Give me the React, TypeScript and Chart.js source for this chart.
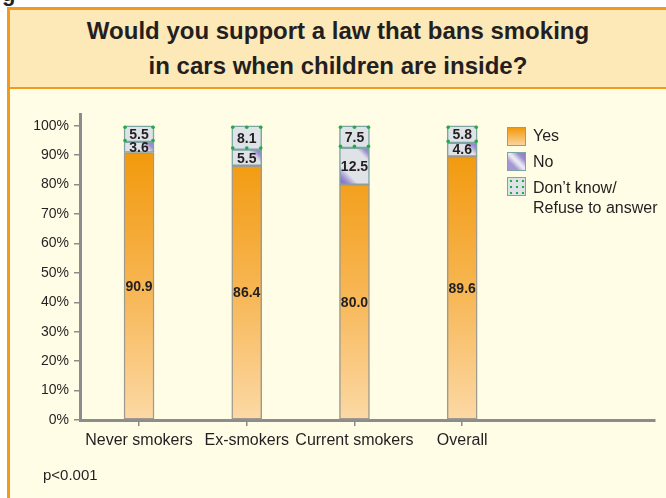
import React, { useEffect, useRef } from 'react';
import { Chart, registerables } from 'chart.js';

Chart.register(...registerables);

const categories = ['Never smokers', 'Ex-smokers', 'Current smokers', 'Overall'];
const yesValues = [90.9, 86.4, 80.0, 89.6];
const noValues = [3.6, 5.5, 12.5, 4.6];
const dkValues = [5.5, 8.1, 7.5, 5.8];
const yTickValues = [0, 10, 20, 30, 40, 50, 60, 70, 80, 90, 100];
const seriesNames = ['Yes', 'No', 'Don’t know/ Refuse to answer'];
const titleLines = ['Would you support a law that bans smoking', 'in cars when children are inside?'];
const footnote = 'p<0.001';

const FONT = '"Liberation Sans", Arial, Helvetica, sans-serif';
const BAR = 30;
const TEXT = '#231f20';
const ORANGE = '#f29a1c';

const yesFill = (ctx: any) => {
  const chart = ctx.chart;
  const y = chart.scales?.y;
  if (!chart.chartArea || !y) return '#f5a623';
  const g = chart.ctx.createLinearGradient(0, y.getPixelForValue(0), 0, y.getPixelForValue(90));
  g.addColorStop(0, '#fcd9a6');
  g.addColorStop(0.5, '#f7b551');
  g.addColorStop(1, '#f29a0e');
  return g;
};

const noFill = (ctx: any) => {
  const chart = ctx.chart;
  const { x, y } = chart.scales || {};
  if (!chart.chartArea || !x || !y || ctx.type !== 'data') return '#dfe3e7';
  const i = ctx.dataIndex;
  const xc = x.getPixelForValue(i);
  const top = y.getPixelForValue(yesValues[i] + noValues[i]);
  const g = chart.ctx.createLinearGradient(xc + BAR / 2, top, xc - BAR / 2, top + BAR);
  g.addColorStop(0, '#8a7ac6');
  g.addColorStop(0.12, '#9d90d2');
  g.addColorStop(0.24, '#dfe3e7');
  g.addColorStop(0.78, '#dfe3e7');
  g.addColorStop(0.92, '#a497d5');
  g.addColorStop(1, '#8a7ac6');
  return g;
};

const segPlugin = {
  id: 'segLabels',
  afterDatasetsDraw(chart: any) {
    const ctx = chart.ctx;
    ctx.save();
    // green dots of the "Don't know" segments, drawn over their borders
    const dkMeta = chart.getDatasetMeta(2);
    ctx.fillStyle = '#1fae45';
    dkMeta.data.forEach((el: any) => {
      const top = Math.min(el.y, el.base);
      const bottom = Math.max(el.y, el.base);
      const h = bottom - top;
      const left = el.x - BAR / 2;
      const xs = h > 20 ? [left + 1, el.x, left + BAR - 1] : [left + 1, left + BAR - 1];
      const rows = [top + 1.5, bottom - 1.5];
      rows.forEach((yy) =>
        xs.forEach((xx) => {
          ctx.beginPath();
          ctx.arc(xx, yy, 1.8, 0, Math.PI * 2);
          ctx.fill();
        })
      );
    });
    ctx.font = `bold 14px ${FONT}`;
    ctx.fillStyle = TEXT;
    ctx.textAlign = 'center';
    ctx.textBaseline = 'middle';
    chart.data.datasets.forEach((ds: any, di: number) => {
      const meta = chart.getDatasetMeta(di);
      meta.data.forEach((el: any, i: number) => {
        const v = ds.data[i].y;
        ctx.fillText(v.toFixed(1), el.x, (el.y + el.base) / 2 + 1);
      });
    });
    ctx.restore();
  },
};

export default function App() {
  const ref = useRef<HTMLCanvasElement>(null);

  useEffect(() => {
    if (!ref.current) return;
    const chart = new Chart(ref.current, {
      type: 'bar',
      data: {
        datasets: [
          {
            label: seriesNames[0],
            data: yesValues.map((v, i) => ({ x: i, y: v })),
            backgroundColor: yesFill,
            borderColor: '#a09a8e',
            borderWidth: 1.5,
            borderSkipped: false,
            barThickness: BAR,
          },
          {
            label: seriesNames[1],
            data: noValues.map((v, i) => ({ x: i, y: v })),
            backgroundColor: noFill,
            borderColor: '#7ea4a4',
            borderWidth: 1.5,
            borderSkipped: false,
            barThickness: BAR,
          },
          {
            label: seriesNames[2],
            data: dkValues.map((v, i) => ({ x: i, y: v })),
            backgroundColor: '#dde3e6',
            borderColor: '#7ea4a4',
            borderWidth: 1.5,
            borderSkipped: false,
            barThickness: BAR,
          },
        ] as any,
      },
      options: {
        animation: false,
        responsive: false,
        maintainAspectRatio: false,
        layout: { padding: { top: 114, right: 11, bottom: 0, left: 0 } },
        plugins: {
          legend: { display: false },
          tooltip: { enabled: false },
        },
        scales: {
          x: {
            type: 'linear',
            stacked: true,
            offset: false,
            min: -0.548,
            max: 4.79,
            afterBuildTicks: (s: any) => {
              s.ticks = categories.map((_, i) => ({ value: i }));
            },
            afterFit: (s: any) => {
              s.height = 78;
            },
            ticks: {
              callback: (v: any) => categories[v] ?? '',
              font: { family: FONT, size: 16 },
              color: TEXT,
              padding: 5,
              autoSkip: false,
              maxRotation: 0,
            },
            grid: { drawOnChartArea: false, offset: false, tickLength: 6, color: '#8c8c8c', lineWidth: 1.5 },
            border: { display: true, color: '#8c8c8c', width: 3 },
          },
          y: {
            stacked: true,
            min: 0,
            max: 104,
            afterBuildTicks: (s: any) => {
              s.ticks = yTickValues.map((v) => ({ value: v }));
            },
            afterFit: (s: any) => {
              s.width = 80;
            },
            ticks: {
              callback: (v: any) => v + '%',
              font: { family: FONT, size: 14 },
              color: TEXT,
              padding: 5,
            },
            grid: { drawOnChartArea: false, tickLength: 6, color: '#8c8c8c', lineWidth: 1.5 },
            border: { display: true, color: '#8c8c8c', width: 3 },
          },
        },
      } as any,
      plugins: [segPlugin],
    });
    return () => chart.destroy();
  }, []);

  const legendBox = (style: React.CSSProperties, top: number) => (
    <div
      style={{
        position: 'absolute',
        left: 507,
        top,
        width: 17,
        height: 17,
        ...style,
      }}
    />
  );

  return (
    <div
      style={{
        position: 'absolute',
        left: 0,
        top: 0,
        width: 666,
        height: 498,
        overflow: 'hidden',
        background: '#ffffff',
        fontFamily: FONT,
        color: TEXT,
      }}
    >
      <div
        style={{
          position: 'absolute',
          left: 2,
          top: -17,
          fontSize: 22,
          lineHeight: '22px',
          fontWeight: 'bold',
          color: '#222',
        }}
      >
        g
      </div>
      <div
        style={{
          position: 'absolute',
          left: 7,
          top: 7,
          width: 668,
          height: 530,
          border: `3px solid ${ORANGE}`,
          background: '#fffde6',
          boxSizing: 'border-box',
        }}
      />
      <div
        style={{
          position: 'absolute',
          left: 10,
          top: 10,
          width: 665,
          height: 77,
          background: '#fde8b8',
          borderBottom: `2px solid ${ORANGE}`,
        }}
      />
      <div
        style={{
          position: 'absolute',
          left: 7,
          width: 662,
          top: 13,
          textAlign: 'center',
          fontSize: 24,
          fontWeight: 'bold',
          lineHeight: '35px',
        }}
      >
        <div>{titleLines[0]}</div>
        <div>{titleLines[1]}</div>
      </div>
      <canvas
        ref={ref}
        width={666}
        height={498}
        style={{ position: 'absolute', left: 0, top: 0, width: 666, height: 498 }}
      />
      {legendBox(
        { background: 'linear-gradient(to bottom, #f29a0e, #fbd49c)', border: '1px solid #a09a8e' },
        127
      )}
      {legendBox(
        {
          background:
            'linear-gradient(45deg, #a596d6 0%, #a596d6 28%, #e6e8ee 48%, #e6e8ee 56%, #9b8bd0 78%, #8c7cc6 100%)',
          border: '1px solid #7ea4a4',
        },
        152
      )}
      {legendBox(
        {
          backgroundColor: '#dde3e6',
          backgroundImage: 'radial-gradient(circle, #22ad47 1.1px, transparent 1.6px)',
          backgroundSize: '6px 6px',
          backgroundPosition: '0px 0px',
          border: '1px solid #7ea4a4',
        },
        177
      )}
      <div style={{ position: 'absolute', left: 533, top: 126, fontSize: 16, lineHeight: '20px' }}>Yes</div>
      <div style={{ position: 'absolute', left: 533, top: 152, fontSize: 16, lineHeight: '20px' }}>No</div>
      <div style={{ position: 'absolute', left: 533, top: 178, fontSize: 16, lineHeight: '20px' }}>
        Don’t know/
        <br />
        Refuse to answer
      </div>
      <div style={{ position: 'absolute', left: 43, top: 466, fontSize: 15, lineHeight: '18px' }}>{footnote}</div>
    </div>
  );
}
